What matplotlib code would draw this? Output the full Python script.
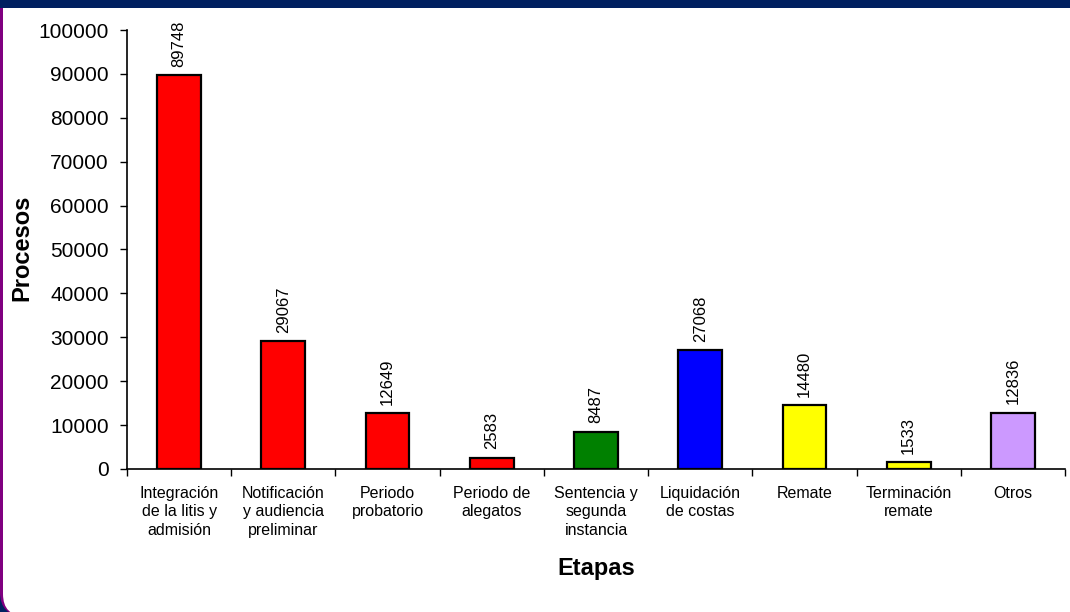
"""Procesos por etapa: bar chart recreated in the old Excel-slide style."""

import matplotlib
matplotlib.use("Agg")
import matplotlib.pyplot as plt
from matplotlib.patches import FancyBboxPatch, Rectangle

etapas = [
    "Integración\nde la litis y\nadmisión",
    "Notificación\ny audiencia\npreliminar",
    "Periodo\nprobatorio",
    "Periodo de\nalegatos",
    "Sentencia y\nsegunda\ninstancia",
    "Liquidación\nde costas",
    "Remate",
    "Terminación\nremate",
    "Otros",
]
procesos = [89748, 29067, 12649, 2583, 8487, 27068, 14480, 1533, 12836]
colores = ["#FF0000", "#FF0000", "#FF0000", "#FF0000", "#008000",
           "#0000FF", "#FFFF00", "#FFFF00", "#CC99FF"]
y_ticks = list(range(0, 100001, 10000))

plt.rcParams["font.family"] = ["Liberation Sans", "DejaVu Sans"]

W, H = 1070, 612
NAVY = "#002060"
fig = plt.figure(figsize=(W / 100, H / 100), dpi=100, facecolor=NAVY)

# slide frame (inch coords): purple edge, white panel rounded at bottom-left,
# navy band on top that hides the upper corners
inch = fig.dpi_scale_trans
fig.patches.append(FancyBboxPatch((0, -0.04), 11.5, 7, transform=inch,
                                  boxstyle="round,pad=0,rounding_size=0.24",
                                  facecolor="#800080", edgecolor="none", zorder=-3))
fig.patches.append(FancyBboxPatch((0.03, -0.04), 11.5, 7, transform=inch,
                                  boxstyle="round,pad=0,rounding_size=0.22",
                                  facecolor="white", edgecolor="none", zorder=-2))
fig.patches.append(Rectangle((0, (H - 8) / 100), W / 100, 0.1, transform=inch,
                             facecolor=NAVY, edgecolor="none", zorder=-1))

ax = fig.add_axes([127 / W, (H - 469) / H, (1065 - 127) / W, (469 - 30) / H])
ax.set_zorder(2)
ax.set_facecolor("none")

x = range(len(etapas))
bars = ax.bar(x, procesos, width=0.42, color=colores, edgecolor="black",
              linewidth=1.6, zorder=3)
for bar, v in zip(bars, procesos):
    ax.annotate(f"{v}", (bar.get_x() + bar.get_width() / 2, bar.get_height()),
                xytext=(0, 6), textcoords="offset points", rotation=90,
                ha="center", va="bottom", fontsize=12)

ax.set_xlim(-0.5, len(etapas) - 0.5)
ax.set_ylim(0, 100000)
ax.set_yticks(y_ticks)
ax.set_yticklabels([str(t) for t in y_ticks], fontsize=15)
ax.set_xticks(list(x))
ax.set_xticklabels(etapas, fontsize=11.5, linespacing=1.3, va="top")
ax.set_xticks([i - 0.5 for i in range(len(etapas) + 1)], minor=True)
ax.tick_params(axis="x", which="major", length=0, pad=12)
ax.tick_params(axis="x", which="minor", length=5, width=1, direction="out")
ax.tick_params(axis="y", length=5, width=1, direction="out", pad=8)

for s in ("top", "right"):
    ax.spines[s].set_visible(False)
for s in ("left", "bottom"):
    ax.spines[s].set_linewidth(1.2)

fig.text(22 / W, (H - 248) / H, "Procesos", rotation=90, ha="center",
         va="center", fontsize=17, fontweight="bold")
fig.text(596 / W, (H - 568) / H, "Etapas", ha="center", va="center",
         fontsize=17, fontweight="bold")

fig.savefig("out.png", dpi=100, facecolor=fig.get_facecolor())
